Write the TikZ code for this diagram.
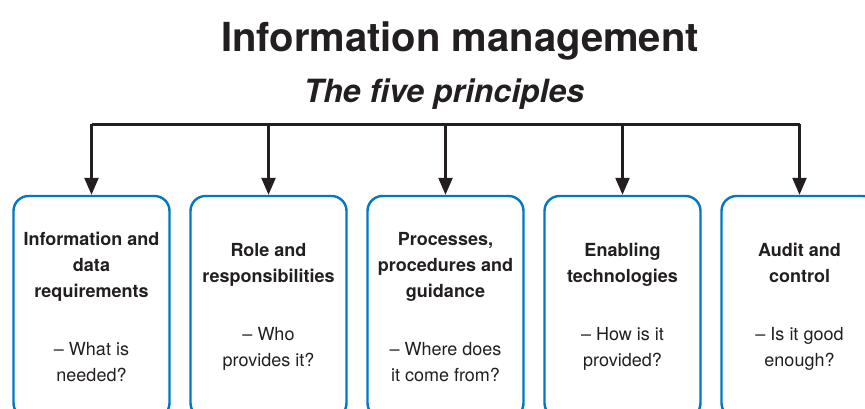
\documentclass[tikz,border=0pt]{standalone}
\usepackage{fontspec}
\setmainfont{TeX Gyre Heros}
\usetikzlibrary{arrows.meta}
\definecolor{boxblue}{RGB}{0,120,196}
\definecolor{inkblack}{RGB}{35,31,32}
\tikzset{
  principle/.style={draw=boxblue, line width=2.4pt, rounded corners=15pt,
    minimum width=156pt, minimum height=222pt, align=center, text=inkblack,
    font=\fontsize{18}{26}\selectfont},
  feed/.style={draw=inkblack, line width=2.4pt},
}
\begin{document}
\begin{tikzpicture}[x=1pt, y=1pt, >={Triangle[width=14pt,length=17pt]}]
\useasboundingbox (0,0) rectangle (865,409);
\node[anchor=base, text=inkblack, font=\fontsize{40}{48}\selectfont\bfseries] (title) at (460,357) {Information management};
\node[anchor=base, text=inkblack, font=\fontsize{32}{38}\selectfont\bfseries\itshape] (subtitle) at (444,306) {The five principles};
\coordinate (bus) at (0,284.5);
\node[principle] (p1) at (91.5,102) {\textbf{Information and}\\\textbf{data}\\\textbf{requirements}\\[32pt]-- What is\\needed?};
\node[principle] (p2) at (268.5,102) {\textbf{Role and}\\\textbf{responsibilities}\\[32pt]-- Who\\provides it?};
\node[principle] (p3) at (445.5,102) {\textbf{Processes,}\\\textbf{procedures and}\\\textbf{guidance}\\[32pt]-- Where does\\it come from?};
\node[principle] (p4) at (622.5,102) {\textbf{Enabling}\\\textbf{technologies}\\[32pt]-- How is it\\provided?};
\node[principle] (p5) at (799.5,102) {\textbf{Audit and}\\\textbf{control}\\[32pt]-- Is it good\\enough?};
\draw[feed] (p1.north |- bus) -- (p5.north |- bus);
\foreach \p in {p1,p2,p3,p4,p5}
  \draw[feed, ->] (\p.north |- bus) -- (\p.north);
\end{tikzpicture}
\end{document}
